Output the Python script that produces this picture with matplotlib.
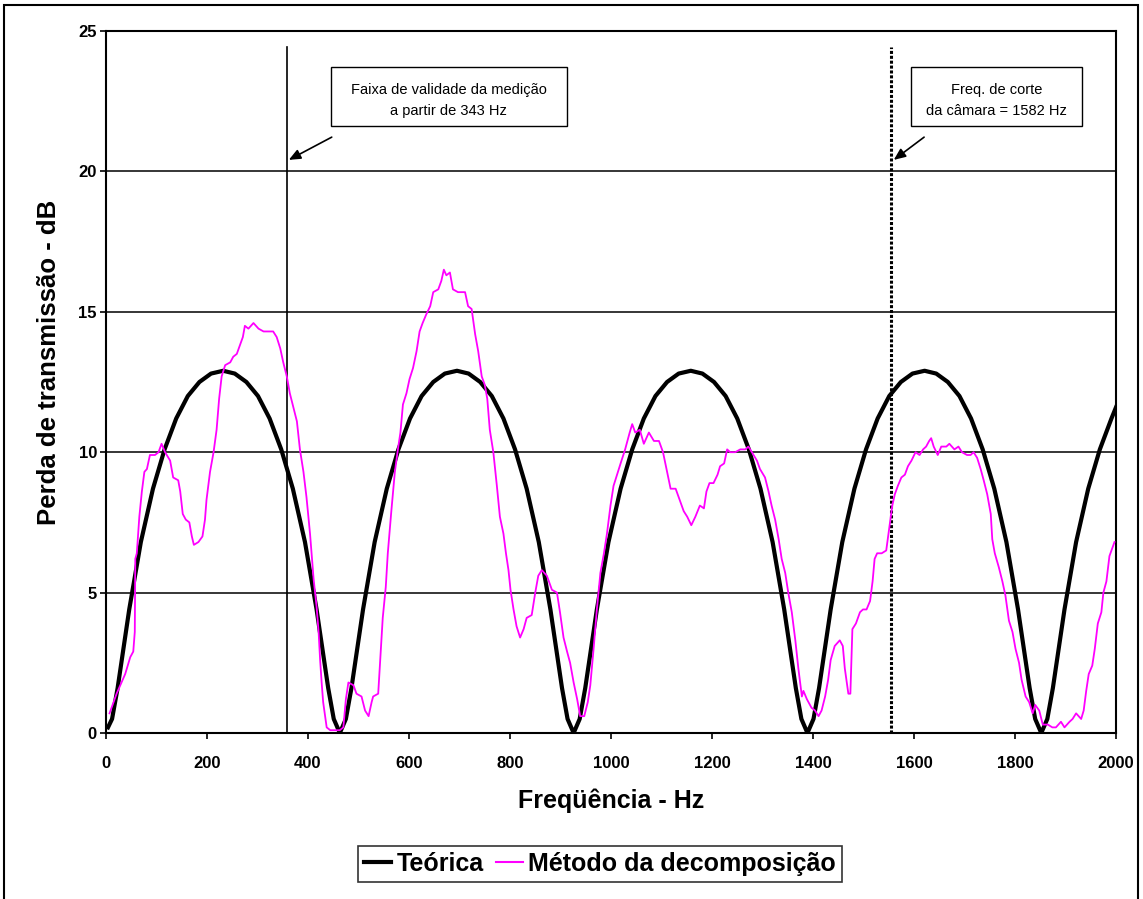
import matplotlib
matplotlib.use("Agg")
import matplotlib.pyplot as plt
from matplotlib.patches import Rectangle

plt.rcParams['font.family'] = ['Liberation Sans', 'DejaVu Sans']

# DATA
# Theoretical transmission loss (dB)
freq_teo = [4, 12, 23, 46, 69, 93, 116, 139, 162, 185, 208, 232, 255, 278, 301, 324, 347, 370, 394, 417, 440, 451,
            463, 475, 486, 509, 532, 556, 579, 602, 625, 648, 671, 695, 718, 741, 764, 787, 810, 833, 857, 880, 903, 914,
            926, 938, 949, 972, 995, 1019, 1042, 1065, 1088, 1111, 1134, 1158, 1181, 1204, 1227, 1250, 1273, 1296,
            1320, 1343, 1366, 1377,
            1389, 1401, 1412, 1435, 1458, 1482, 1505, 1528, 1551, 1574, 1597, 1621, 1644, 1667, 1690, 1713, 1736,
            1759, 1783, 1806, 1829, 1840,
            1852, 1864, 1875, 1898, 1921, 1945, 1968, 1991, 2000]
tl_teo = [0.2, 0.5, 1.6, 4.4, 6.8, 8.7, 10.1, 11.2, 12.0, 12.5, 12.8, 12.9, 12.8, 12.5, 12.0, 11.2, 10.1, 8.7, 6.8, 4.4, 1.6, 0.5,
          0.0, 0.5, 1.6, 4.4, 6.8, 8.7, 10.1, 11.2, 12.0, 12.5, 12.8, 12.9, 12.8, 12.5, 12.0, 11.2, 10.1, 8.7, 6.8, 4.4, 1.6, 0.5,
          0.0, 0.5, 1.6, 4.4, 6.8, 8.7, 10.1, 11.2, 12.0, 12.5, 12.8, 12.9, 12.8, 12.5, 12.0, 11.2, 10.1, 8.7,
          6.8, 4.4, 1.6, 0.5,
          0.0, 0.5, 1.6, 4.4, 6.8, 8.7, 10.1, 11.2, 12.0, 12.5, 12.8, 12.9, 12.8, 12.5, 12.0, 11.2, 10.1,
          8.7, 6.8, 4.4, 1.6, 0.5,
          0.0, 0.5, 1.6, 4.4, 6.8, 8.7, 10.1, 11.2, 11.6]

# Measured transmission loss (decomposition method), magenta curve
freq_dec = [7, 21, 38, 48, 54, 57, 58, 61, 66, 71, 76, 81, 87, 97, 104, 110, 117, 127, 133, 143,
            147, 152, 158, 165, 170, 174, 183, 191, 196, 199, 206, 213, 219, 224, 229, 236, 246, 252, 259, 265,
            271, 275, 282, 292, 302, 312, 322, 331, 338, 345, 351, 358, 364, 371, 378, 384, 391, 397, 404, 411,
            417, 421, 424, 427, 430, 437, 444, 450, 463, 470, 475, 480, 490, 496, 506, 513, 520, 526, 529, 539,
            545, 548, 554, 558, 565, 572, 578, 583, 588, 595, 601, 608, 615, 621, 627, 634, 642, 648, 658, 664,
            669, 674, 681, 687, 697, 711, 717, 724, 731, 737, 744, 750, 755, 760, 767, 774, 780, 787, 792, 797,
            801, 807, 813, 820, 827, 833, 843, 850, 856, 863, 873, 883, 893, 899, 906, 913, 919, 926, 933, 939,
            947, 954, 959, 966, 972, 979, 986, 992, 999, 1005, 1012, 1019, 1028, 1037, 1042, 1048, 1057, 1065, 1075, 1085,
            1095, 1103, 1111, 1118, 1128, 1134, 1138, 1144, 1151, 1159, 1167, 1176, 1184, 1189, 1195, 1203, 1211, 1216, 1224, 1230,
            1236, 1246, 1256, 1266, 1272, 1279, 1289, 1295, 1305, 1312, 1318, 1325, 1332, 1338, 1345, 1351, 1358, 1365, 1371, 1378,
            1381, 1388, 1397, 1404, 1411, 1417, 1424, 1430, 1435, 1443, 1453, 1459, 1463, 1470, 1474, 1478, 1485, 1493, 1499, 1506,
            1513, 1518, 1522, 1527, 1536, 1545, 1551, 1557, 1562, 1568, 1575, 1582, 1588, 1595, 1603, 1611, 1618, 1624, 1630, 1634,
            1639, 1647, 1654, 1664, 1670, 1680, 1688, 1695, 1705, 1712, 1718, 1725, 1732, 1738, 1745, 1752, 1755, 1760, 1768, 1775,
            1781, 1788, 1795, 1801, 1808, 1813, 1821, 1828, 1835, 1840, 1848, 1855, 1865, 1874, 1881, 1891, 1898, 1908, 1914, 1921,
            1931, 1936, 1941, 1946, 1953, 1958, 1964, 1971, 1975, 1981, 1987, 1993, 1997]
tl_dec = [0.7, 1.4, 2.1, 2.7, 2.9, 3.6, 6.2, 6.4, 7.7, 8.6, 9.3, 9.4, 9.9, 9.9, 10.0, 10.3, 10.0, 9.7, 9.1, 9.0,
          8.6, 7.8, 7.6, 7.5, 7.0, 6.7, 6.8, 7.0, 7.6, 8.3, 9.3, 10.0, 10.8, 11.9, 12.7, 13.1, 13.2, 13.4, 13.5, 13.8,
          14.1, 14.5, 14.4, 14.6, 14.4, 14.3, 14.3, 14.3, 14.1, 13.7, 13.2, 12.7, 12.1, 11.6, 11.1, 10.1, 9.3, 8.4, 7.1, 5.5,
          4.5, 3.6, 2.6, 1.8, 1.1, 0.2, 0.1, 0.1, 0.1, 0.2, 1.2, 1.8, 1.7, 1.4, 1.3, 0.8, 0.6, 1.1, 1.3, 1.4,
          3.2, 4.1, 5.2, 6.4, 7.9, 9.3, 10.1, 10.7, 11.7, 12.1, 12.6, 13.0, 13.6, 14.3, 14.6, 14.9, 15.2, 15.7, 15.8, 16.1,
          16.5, 16.3, 16.4, 15.8, 15.7, 15.7, 15.2, 15.1, 14.2, 13.6, 12.7, 12.4, 11.9, 10.8, 10.0, 8.8, 7.7, 7.1, 6.4, 5.8,
          5.1, 4.4, 3.8, 3.4, 3.7, 4.1, 4.2, 5.0, 5.6, 5.8, 5.6, 5.1, 5.0, 4.3, 3.4, 2.9, 2.5, 1.8, 1.2, 0.6,
          0.6, 1.1, 1.7, 3.1, 4.4, 5.7, 6.4, 7.1, 8.1, 8.8, 9.2, 9.6, 10.1, 10.7, 11.0, 10.7, 10.8, 10.3, 10.7, 10.4,
          10.4, 10.0, 9.3, 8.7, 8.7, 8.4, 8.2, 7.9, 7.7, 7.4, 7.7, 8.1, 8.0, 8.6, 8.9, 8.9, 9.2, 9.5, 9.6, 10.1,
          10.0, 10.0, 10.1, 10.1, 10.2, 10.0, 9.7, 9.4, 9.1, 8.6, 8.1, 7.6, 6.9, 6.2, 5.7, 5.0, 4.3, 3.3, 2.3, 1.3,
          1.5, 1.2, 0.9, 0.8, 0.6, 0.8, 1.3, 1.9, 2.6, 3.1, 3.3, 3.1, 2.3, 1.4, 1.4, 3.7, 3.9, 4.3, 4.4, 4.4,
          4.7, 5.4, 6.2, 6.4, 6.4, 6.5, 7.3, 8.1, 8.5, 8.8, 9.1, 9.2, 9.5, 9.7, 10.0, 9.9, 10.1, 10.2, 10.4, 10.5,
          10.2, 9.9, 10.2, 10.2, 10.3, 10.1, 10.2, 10.0, 9.9, 9.9, 10.0, 9.8, 9.4, 9.0, 8.5, 7.8, 6.9, 6.4, 5.9, 5.4,
          4.9, 4.0, 3.6, 3.0, 2.5, 1.9, 1.3, 1.1, 0.7, 1.0, 0.8, 0.3, 0.3, 0.2, 0.2, 0.4, 0.2, 0.4, 0.5, 0.7,
          0.5, 0.8, 1.5, 2.1, 2.4, 3.0, 3.9, 4.3, 5.0, 5.4, 6.3, 6.6, 6.8]

f_validade = 358   # marker line "a partir de 343 Hz"
f_corte = 1555     # marker line "1582 Hz"
x_ticks = list(range(0, 2001, 200))
y_ticks = [0, 5, 10, 15, 20, 25]

# FIGURE
fig = plt.figure(figsize=(11.43, 8.99), dpi=100)
ax = fig.add_axes([106 / 1143, 1 - 733 / 899, 1010 / 1143, 702 / 899])

# outer frame (open at the bottom)
fig.patches.append(Rectangle((4 / 1143, -0.1), 1134 / 1143, 1.1 - 5 / 899, transform=fig.transFigure,
                             fill=False, edgecolor="black", linewidth=1.5))

for yv in y_ticks[1:]:
    ax.axhline(yv, color="black", linewidth=1.1, zorder=1)

ax.plot(freq_teo, tl_teo, color="black", linewidth=3.0, label="Teórica", zorder=3)
ax.plot(freq_dec, tl_dec, color="#ff00ff", linewidth=1.3, label="Método da decomposição", zorder=4)

ax.plot([f_validade, f_validade], [0, 24.44], color="black", linewidth=1.2, zorder=2)
ax.plot([f_corte, f_corte], [0, 24.44], color="black", linewidth=2.2, linestyle=(0, (1, 0.6)), zorder=2)

# annotation boxes
ax.add_patch(Rectangle((445.5, 21.62), 467.4, 2.1, facecolor="white", edgecolor="black", linewidth=1.0, zorder=5))
ax.text(679, 22.53, "Faixa de validade da medição\na partir de 343 Hz", ha="center", va="center",
        fontsize=10.5, linespacing=1.65, zorder=6)
ax.add_patch(Rectangle((1594, 21.62), 338.7, 2.1, facecolor="white", edgecolor="black", linewidth=1.0, zorder=5))
ax.text(1763, 22.53, "Freq. de corte\nda câmara = 1582 Hz", ha="center", va="center",
        fontsize=10.5, linespacing=1.65, zorder=6)

arrow_style = dict(arrowstyle="-|>,head_length=0.7,head_width=0.3", color="black", linewidth=1.2,
                   shrinkA=0, shrinkB=0)
ax.annotate("", xy=(362, 20.41), xytext=(447, 21.22), arrowprops=arrow_style, zorder=6)
ax.annotate("", xy=(1560, 20.41), xytext=(1620, 21.22), arrowprops=arrow_style, zorder=6)

ax.set_xlim(0, 2000)
ax.set_ylim(0, 25)
ax.set_xticks(x_ticks)
ax.set_yticks(y_ticks)
ax.tick_params(axis="x", direction="out", length=4.5, width=1.2, pad=12, labelsize=12)
ax.tick_params(axis="y", direction="out", length=4.5, width=1.2, pad=2, labelsize=12)
for lab in ax.get_xticklabels() + ax.get_yticklabels():
    lab.set_fontweight("bold")
for sp in ax.spines.values():
    sp.set_linewidth(1.5)

ax.set_xlabel("Freqüência - Hz", fontsize=18, fontweight="bold", labelpad=13)
ax.set_ylabel("Perda de transmissão - dB", fontsize=18.5, fontweight="bold")
ax.yaxis.set_label_coords(-0.045, 0.528)

leg = ax.legend(loc="center", bbox_to_anchor=(600 / 1143, 1 - 864 / 899), bbox_transform=fig.transFigure,
                ncol=2, fontsize=18, frameon=True, fancybox=False, edgecolor="black", borderpad=0.25,
                handlelength=1.1, handletextpad=0.2, columnspacing=0.5, borderaxespad=0)
for t in leg.get_texts():
    t.set_fontweight("bold")
leg.get_frame().set_linewidth(1.2)
leg.get_lines()[0].set_linewidth(3.0)
leg.get_lines()[1].set_linewidth(1.5)

fig.savefig("out.png", dpi=100)
